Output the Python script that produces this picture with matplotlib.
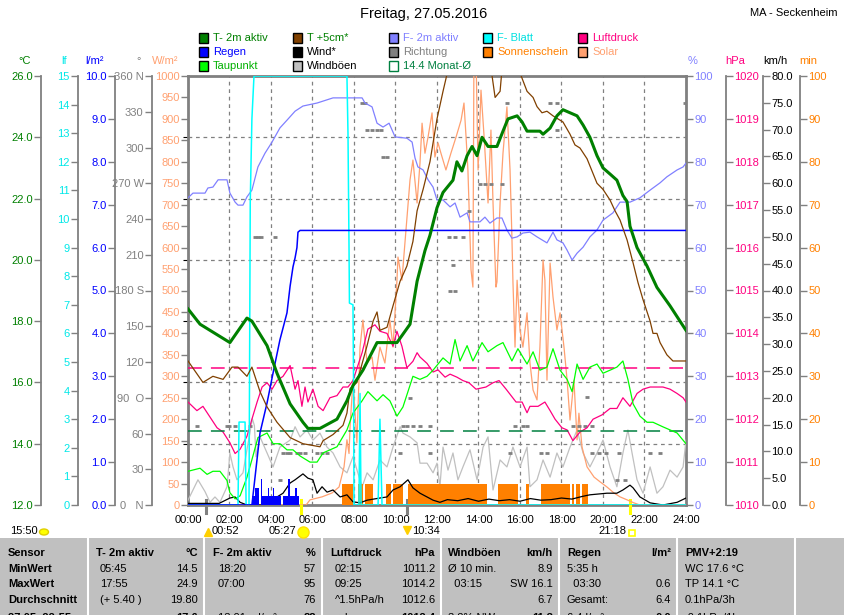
import matplotlib
matplotlib.use("Agg")
import matplotlib.pyplot as plt
from matplotlib.patches import Rectangle, Ellipse
from matplotlib.lines import Line2D

plt.rcParams['font.family'] = ['Liberation Sans', 'DejaVu Sans']

# ---------------- data (time in hours since midnight) ----------------
t2m_h = [0.0, 0.58, 2.02, 2.84, 3.08, 3.81, 4.29, 4.92, 5.54, 5.78, 6.36, 7.18, 7.66, 7.95, 8.43, 9.11,
         9.59, 10.07, 10.70, 11.04, 11.42, 11.66, 12.00, 12.29, 12.77, 12.96, 13.20, 13.45, 13.69, 13.93,
         14.17, 14.46, 14.89, 15.18, 15.42, 15.86, 16.10, 16.34, 16.96, 17.11, 17.45, 17.78, 18.07, 18.41,
         18.75, 19.04, 19.37, 19.71, 20.00, 20.34, 20.67, 20.96, 21.16, 21.30, 21.64, 22.12, 22.60, 23.23,
         23.71, 24.0]
t2m = [18.4, 17.9, 17.3, 18.1, 18.0, 17.2, 16.3, 15.3, 14.7, 14.5, 14.5, 14.8, 15.4, 15.9, 16.4, 17.3,
       17.3, 17.3, 17.9, 19.3, 20.3, 20.8, 21.7, 22.2, 22.6, 23.2, 22.9, 23.4, 23.7, 23.4,
       24.0, 23.7, 23.7, 24.2, 24.6, 24.7, 24.5, 24.2, 24.2, 24.1, 24.3, 24.7, 24.9, 24.8,
       24.7, 24.4, 24.0, 23.4, 23.0, 22.8, 22.6, 22.1, 21.9, 21.1, 20.4, 19.8, 19.1, 18.5,
       18.0, 17.7]

t5_h = [0.0, 0.72, 1.20, 1.69, 2.12, 2.41, 2.84, 3.08, 3.47, 3.81, 4.29, 4.92, 5.54, 6.36, 6.51, 6.99,
        7.47, 7.66, 7.81, 8.14, 8.63, 8.92, 9.11, 9.25, 9.59, 9.88, 10.22, 10.55, 10.84, 11.04, 11.33,
        11.66, 12.00, 12.29, 12.53, 13.59, 14.55, 14.80, 15.04, 15.13, 15.61, 16.0, 16.34, 16.63, 16.82,
        17.06, 17.30, 17.59, 17.83, 18.07, 18.41, 18.65, 18.89, 19.23, 19.71, 20.0, 20.34, 20.58, 20.82,
        21.16, 21.45, 21.69, 21.93, 22.27, 22.41, 22.60, 22.75, 23.08, 23.37, 24.0]
t5 = [16.7, 16.0, 16.2, 16.1, 16.5, 16.5, 16.2, 16.5, 15.7, 15.2, 14.7, 14.2, 14.0, 13.9, 14.1, 14.3,
      14.6, 15.0, 15.8, 16.0, 17.2, 18.0, 18.3, 17.7, 17.8, 18.5, 19.3, 19.8, 20.6, 21.6, 22.3,
      23.2, 24.6, 25.5, 26.2, 27.5, 26.5, 25.3, 25.5, 26.2, 27.0, 26.1, 25.5, 25.3, 25.0,
      24.8, 24.85, 24.7, 24.6, 24.5, 24.1, 23.75, 23.65, 23.3, 22.5, 22.3, 21.95, 21.6, 21.3,
      20.65, 19.9, 19.25, 18.7, 18.0, 17.6, 17.6, 17.3, 16.9, 16.7, 16.7]

td_h = [0.0, 0.58, 0.92, 1.20, 1.54, 1.88, 2.02, 2.27, 2.51, 2.84, 3.13, 3.37, 3.81, 4.10, 4.43, 4.77,
        5.06, 5.40, 5.88, 6.22, 6.51, 7.18, 7.66, 7.95, 8.39, 8.67, 9.11, 9.40, 9.73, 10.07, 10.36,
        10.84, 11.18, 11.52, 11.81, 12.29, 12.63, 12.87, 13.11, 13.45, 13.73, 14.17, 14.46, 14.89,
        15.18, 15.61, 15.90, 16.34, 16.63, 16.96, 17.30, 17.59, 17.93, 18.27, 18.51, 18.75, 19.04,
        19.37, 19.71, 20.0, 20.34, 20.67, 20.96, 21.20, 21.45, 21.78, 22.12, 22.41, 22.89, 23.23,
        23.57, 24.0]
td = [13.1, 13.2, 13.0, 13.1, 13.1, 12.8, 12.4, 12.2, 12.3, 12.9, 13.6, 14.2, 14.35, 14.0, 14.0, 13.8,
      13.8, 13.6, 13.4, 13.4, 13.7, 13.9, 14.45, 15.0, 15.4, 15.7, 15.4, 15.6, 15.4, 14.9, 15.2,
      16.2, 16.1, 16.2, 16.4, 16.8, 16.6, 17.4, 16.7, 17.2, 16.7, 17.3, 17.0, 17.2,
      17.3, 16.7, 17.1, 16.6, 17.0, 16.4, 16.5, 17.1, 16.4, 16.1, 15.7, 16.6, 16.1,
      16.5, 16.6, 16.3, 16.4, 16.5, 16.7, 16.1, 15.3, 14.9, 14.7, 14.7, 14.55, 14.45,
      14.35, 14.0]

hum_h = [0.0, 0.24, 0.82, 0.96, 1.20, 1.45, 1.88, 2.02, 2.27, 2.41, 2.65, 2.84, 3.08, 3.37, 3.71, 4.05,
         4.43, 4.77, 5.16, 5.54, 6.22, 6.99, 8.39, 8.53, 8.87, 9.11, 9.40, 9.69, 9.98, 10.55, 10.80,
         10.94, 11.08, 11.33, 11.57, 11.81, 12.00, 12.29, 12.63, 12.87, 13.11, 13.45, 13.59, 14.07,
         14.31, 14.55, 14.89, 15.13, 15.37, 15.61, 15.86, 16.14, 16.48, 16.82, 17.30, 17.59, 17.78,
         18.07, 18.27, 18.51, 18.75, 19.04, 19.37, 19.71, 20.0, 20.48, 20.82, 21.30, 21.78, 22.27,
         22.75, 23.08, 23.57, 23.86, 24.0]
hum = [71.6, 72.7, 72.7, 73.9, 74.1, 75.8, 75.8, 72.7, 70.6, 69.9, 69.9, 71.8, 73.4, 78.8, 82.0, 84.6,
       87.9, 89.7, 91.8, 93.0, 93.7, 94.9, 94.9, 93.7, 92.8, 89.0, 88.1, 89.0, 85.8, 85.5, 84.6,
       80.9, 78.8, 78.1, 75.8, 74.1, 71.1, 71.1, 69.5, 70.4, 67.1, 68.1, 66.0, 66.0,
       67.1, 65.7, 66.9, 66.9, 64.1, 62.2, 62.5, 63.4, 63.6, 62.5, 61.1, 63.6, 61.8,
       61.1, 59.4, 57.1, 58.7, 60.1, 62.5, 64.1, 66.4, 68.1, 70.6, 70.6, 71.6, 73.4,
       75.1, 76.5, 78.1, 78.8, 79.7]

p_h = [0.0, 0.43, 0.72, 1.06, 1.40, 1.69, 2.02, 2.27, 2.51, 2.84, 3.08, 3.33, 3.57, 3.81, 4.05, 4.29,
       4.58, 4.92, 5.16, 5.30, 5.49, 5.64, 5.78, 6.02, 6.27, 6.51, 6.84, 7.18, 7.47, 7.71, 7.95, 8.39,
       8.67, 9.01, 9.25, 9.59, 9.88, 10.07, 10.31, 10.55, 10.84, 11.04, 11.18, 11.52, 11.81, 12.05,
       12.39, 12.63, 12.96, 13.25, 13.54, 13.88, 14.36, 14.70, 14.99, 15.33, 15.81, 16.10, 16.34,
       16.48, 16.87, 17.20, 17.45, 17.69, 18.02, 18.27, 18.55, 18.89, 19.23, 19.52, 19.95, 20.34,
       20.67, 20.96, 21.30, 21.64, 21.93, 22.27, 22.89, 23.23, 23.57, 23.86, 24.0]
pres = [1012.4, 1012.2, 1012.3, 1012.05, 1011.8, 1011.7, 1011.45, 1011.2, 1011.3, 1011.6, 1012.0, 1012.4,
        1012.75, 1012.85, 1012.7, 1012.9, 1013.0, 1013.25, 1012.7, 1012.9, 1012.3, 1012.75, 1012.4,
        1012.7, 1012.3, 1012.2, 1012.5, 1012.55, 1012.75, 1012.75, 1012.9, 1013.55, 1014.1, 1014.2,
        1014.05, 1014.0, 1013.7, 1014.05, 1013.7, 1013.2, 1013.35, 1013.55, 1013.45, 1013.3, 1013.1,
        1013.15, 1012.98, 1013.05, 1012.98, 1012.9, 1012.85, 1012.7, 1012.75, 1012.85, 1012.9, 1012.7,
        1012.4, 1012.4, 1012.15, 1012.3, 1012.3, 1012.4, 1012.2, 1012.0, 1011.8, 1011.75, 1011.5,
        1011.7, 1011.8, 1012.0, 1012.1, 1012.25, 1012.25, 1012.5, 1012.3, 1012.6, 1012.7, 1012.75,
        1012.75, 1012.7, 1012.6, 1012.5, 1012.4]

leaf_h = [0.0, 2.41, 2.46, 2.75, 2.80, 2.94, 3.00, 3.08, 3.18, 7.66, 7.71, 7.76, 7.78, 7.95, 7.98, 8.0,
          8.24, 8.29, 8.34, 9.16, 9.25, 9.35, 24.0]
leaf = [0, 0, 2.9, 2.9, 0, 0, 10.6, 13.5, 15, 15, 13.0, 9.0, 7.06, 7.0, 4.1, 0,
        0, 3.9, 0, 0, 3.0, 0, 0]

rain_h = [0.0, 3.08, 3.47, 3.81, 4.10, 4.43, 4.77, 4.92, 5.06, 5.16, 5.25, 5.30, 5.40, 24.0]
rain_sum = [0, 0, 1.68, 2.38, 3.08, 3.85, 4.48, 5.1, 5.55, 5.76, 6.0, 6.36, 6.4, 6.4]

rain5_start = 3 + 5 / 60          # first 5-minute rain bar (03:05)
rain5 = [0.2, 0.2, 0.4, 0.4, 0.0, 0.6, 0.2, 0.2, 0.2, 0.4, 0.2, 0.2, 0.4, 0.2,
         0.2, 0.2, 0.2, 0.0, 0.2, 0.2, 0.2, 0.6, 0.2, 0.2, 0.2, 0.4, 0.2, 0.0]

sun_start = [7.42, 8.19, 8.53, 9.54, 9.88, 10.60, 14.94, 16.29, 17.01, 18.51, 18.70, 18.99]
sun_end = [7.95, 8.43, 8.92, 9.78, 10.36, 14.41, 15.90, 16.43, 18.41, 18.60, 18.89, 19.28]
sun_min = 5                       # sunshine minutes per 5-minute slot

wind_h = [0.0, 1.5, 2.02, 2.27, 2.51, 2.84, 4.0, 4.29, 4.58, 4.92, 5.16, 5.54, 5.78, 6.02, 6.22, 6.46,
          6.70, 6.99, 7.33, 7.66, 7.95, 8.29, 8.63, 9.25, 9.59, 9.88, 10.22, 10.60, 10.84, 11.18, 11.52,
          11.81, 12.14, 12.5, 13.0, 13.5, 14.0, 14.5, 15.0, 15.5, 16.0, 16.5, 17.0, 17.5, 18.0, 18.5,
          19.0, 19.37, 20.19, 20.67, 20.96, 21.30, 21.45, 21.78, 22.27, 22.89, 23.57, 24.0]
wind = [0.3, 0.3, 1.3, 1.5, 0.5, 0.0, 0.0, 1.5, 2.2, 4.1, 4.7, 5.8, 5.0, 4.7, 2.2, 3.4,
        2.4, 2.8, 1.5, 1.9, 0.6, 0.4, 0.9, 1.3, 1.5, 2.8, 3.4, 4.7, 3.2, 2.2, 1.5,
        0.9, 0.5, 1.0, 0.8, 1.2, 0.7, 1.1, 0.8, 1.0, 0.7, 1.2, 0.9, 1.0, 1.3, 1.1,
        1.6, 1.9, 2.2, 2.2, 2.8, 3.7, 3.2, 1.5, 0.4, 0.0, 0.5, 1.3]

gust_h = [0.0, 0.24, 0.48, 0.82, 1.06, 1.30, 1.54, 1.88, 2.02, 2.17, 2.36, 2.65, 3.10, 3.20, 3.28, 3.47,
          3.81, 4.10, 4.43, 4.92, 5.16, 5.40, 5.73, 6.02, 6.36, 6.70, 6.99, 7.33, 7.66, 7.95, 8.39,
          8.63, 8.92, 9.25, 9.59, 9.88, 10.22, 10.36, 10.70, 11.04, 11.18, 11.52, 11.81, 12.0, 12.14,
          12.29, 12.53, 12.77, 13.01, 13.25, 13.59, 13.93, 14.22, 14.46, 14.70, 15.04, 15.37, 15.66,
          16.0, 16.34, 16.48, 16.82, 17.11, 17.45, 17.78, 18.07, 18.41, 18.75, 19.04, 19.37, 19.71,
          20.0, 20.34, 20.67, 20.96, 21.20, 21.40, 21.64, 21.93, 22.27, 22.60, 22.89, 23.23, 23.57,
          23.86, 24.0]
gust = [0.9, 2.8, 4.7, 2.5, 0.5, 1.5, 0.5, 3.4, 9.7, 7.1, 4.7, 6.0, 16.1, 14.8, 9.0, 12.7,
        9.7, 7.1, 10.8, 12.1, 14.6, 12.7, 14.0, 12.1, 13.4, 10.8, 9.7, 7.1, 6.0, 9.0, 3.4,
        6.0, 4.7, 8.4, 7.1, 10.8, 14.6, 13.4, 12.7, 11.6, 7.8, 7.8, 6.0, 7.8, 3.4,
        10.8, 6.5, 9.7, 4.7, 7.1, 10.3, 4.7, 10.8, 12.7, 2.8, 8.4, 7.1, 10.8,
        7.1, 10.8, 3.4, 4.7, 8.4, 5.2, 9.7, 7.1, 10.8, 14.0, 9.7, 7.1, 9.7,
        12.1, 7.1, 3.4, 9.7, 14.0, 9.7, 4.7, 2.2, 7.1, 2.2, 3.4, 6.5, 5.2,
        7.1, 12.1]

sol_h = [0.0, 5.69, 5.88, 6.46, 6.94, 7.28, 7.52, 7.66, 7.76, 7.81, 7.95, 8.14, 8.29, 8.43, 8.63, 8.87,
         9.01, 9.25, 9.49, 9.73, 9.88, 10.07, 10.12, 10.31, 10.70, 10.84, 11.04, 11.18, 11.28, 11.42,
         11.57, 11.76, 11.90, 12.05, 12.19, 12.43, 12.67, 12.92, 13.16, 13.30, 13.40, 13.49, 13.64,
         13.73, 13.78, 13.88, 13.98, 14.12, 14.27, 14.46, 14.60, 14.70, 14.84, 14.89, 15.04, 15.18,
         15.37, 15.52, 15.61, 15.66, 15.76, 15.86, 16.0, 16.14, 16.34, 16.48, 16.63, 16.82, 16.96,
         17.11, 17.20, 17.30, 17.45, 17.59, 17.78, 17.93, 18.12, 18.27, 18.41, 18.60, 18.75, 18.84,
         18.99, 19.23, 19.57, 19.86, 20.19, 20.53, 20.82, 21.16, 21.49, 21.78, 24.0]
solar = [0, 0, 12, 19, 28, 42, 89, 152, 120, 182, 291, 145, 368, 431, 331, 345,
         291, 368, 331, 431, 368, 524, 578, 524, 758, 804, 704, 797, 890, 820,
         858, 914, 811, 844, 820, 781, 820, 858, 897, 937, 858, 781, 548,
         508, 1050, 1050, 781, 967, 858, 704, 874, 704, 508, 520, 704, 820,
         928, 781, 625, 520, 368, 524, 408, 368, 448, 331, 268, 245, 368,
         571, 524, 291, 564, 485, 408, 448, 368, 291, 198, 291, 152, 214,
         135, 89, 65, 54, 42, 28, 19, 12, 5, 0, 0]

dir_h = [0.43, 1.88, 2.0, 2.27, 2.99, 3.23, 3.37, 3.52, 4.19, 4.43, 4.58, 4.77, 4.92, 5.25, 5.40, 5.64,
         6.22, 6.46, 6.70, 8.39, 8.53, 8.63, 8.87, 9.11, 9.30, 9.40, 9.59, 10.22, 10.36, 10.55, 10.70,
         10.84, 11.18, 11.66, 11.66, 12.58, 12.63, 12.77, 12.87, 12.87, 13.25, 13.54, 14.07, 14.31,
         14.60, 15.13, 15.37, 15.52, 15.76, 16.14, 16.34, 17.01, 17.30, 17.45, 17.78, 17.78, 18.55,
         18.84, 19.13, 19.23, 19.47, 19.47, 19.81, 20.15, 20.67, 20.77, 21.06, 22.27, 22.75, 23.95]
dir_deg = [66, 66, 66, 66, 66, 225, 225, 225, 225, 21, 44, 44, 44, 44, 44, 44,
           44, 44, 44, 337, 337, 315, 315, 315, 315, 292, 292, 44, 66, 66, 90,
           66, 66, 66, 44, 225, 180, 201, 225, 180, 225, 247, 269, 269,
           269, 269, 337, 44, 66, 66, 66, 44, 44, 337, 337, 315, 66,
           66, 66, 91, 66, 44, 44, 44, 21, 44, 21, 44, 44, 337]

month_t = 14.4       # Monat-Ø temperature
month_p = 1013.2     # pressure reference line

# sun / moon events (hours)
moonrise, sunrise, moonset, sunset = 0.867, 5.45, 10.567, 21.3

# ---------------- layout ----------------
W, H = 845, 615
L, R, T, B = 188, 686, 76, 505
GRAY = '#808080'
FS = 8

fig = plt.figure(figsize=(W / 100, H / 100), dpi=100)


def fx(x):
    return x / W


def fy(y):
    return 1 - y / H


ax = fig.add_axes([fx(L), fy(B), (R - L) / W, (B - T) / H])
ax.set_xlim(0, 24)
ax.set_ylim(12, 26)


def scale(lo, hi, ticks, labels, color, side, xpix):
    a = ax.twinx()
    a.set_ylim(lo, hi)
    for s in a.spines.values():
        s.set_visible(False)
    sp = a.spines[side]
    sp.set_position(('axes', (xpix - L) / (R - L)))
    sp.set_visible(xpix not in (L, R))
    sp.set_color(GRAY)
    sp.set_linewidth(1.3)
    if side == 'left':
        a.yaxis.tick_left()
    else:
        a.yaxis.tick_right()
    a.set_yticks(ticks, labels)
    a.tick_params(axis='y', direction='out', length=5, width=1, color=GRAY,
                  labelcolor=color, labelsize=FS, pad=1)
    return a


def layer(lo, hi, z):
    a = ax.twinx()
    a.set_ylim(lo, hi)
    a.set_zorder(z)
    a.set_axis_off()
    return a


# scales
scale(12, 26, range(12, 27, 2), [f"{v:.1f}" for v in range(12, 27, 2)], '#008000', 'left', 41)
scale(0, 15, range(16), [str(v) for v in range(16)], '#00e8e8', 'left', 78)
scale(0, 10, range(11), [f"{v:.1f}" for v in range(11)], '#0000ff', 'left', 115)
dir_lab = {0: '0   N', 90: '90  O', 180: '180 S', 270: '270 W', 360: '360 N'}
scale(0, 360, range(0, 361, 30), [dir_lab.get(v, str(v)) for v in range(0, 361, 30)], GRAY, 'left', 152)
scale(0, 1000, range(0, 1001, 50), [str(v) for v in range(0, 1001, 50)], '#ffa070', 'left', L)
scale(0, 100, range(0, 101, 10), [str(v) for v in range(0, 101, 10)], '#8080ff', 'right', R)
scale(1010, 1020, range(1010, 1021), [str(v) for v in range(1010, 1021)], '#ff0080', 'right', 726)
scale(0, 80, range(0, 81, 5), [f"{v:.1f}" for v in range(0, 81, 5)], 'black', 'right', 763)
scale(0, 100, range(0, 101, 10), [str(v) for v in range(0, 101, 10)], '#ff8000', 'right', 800)

# base axis: frame, grid, time axis
ax.set_xticks(range(0, 25, 2), [f"{h:02d}:00" for h in range(0, 25, 2)])
ax.set_yticks([14, 16, 18, 20, 22, 24])
ax.tick_params(axis='y', left=False, right=False, labelleft=False, labelright=False)
ax.tick_params(axis='x', length=0, pad=7, labelsize=FS)
ax.grid(True, color=GRAY, ls=(0, (3, 3)), lw=0.9)
for s in ax.spines.values():
    s.set_color(GRAY)
    s.set_linewidth(2)

# data layers
a = layer(0, 80, 1)
a.plot(gust_h, gust, color='#c0c0c0', lw=0.9)

a = layer(0, 100, 2)
a.bar(sun_start, [sun_min] * len(sun_start),
      width=[e - s for s, e in zip(sun_start, sun_end)], align='edge', color='#ff8000', lw=0)

a = layer(0, 1000, 3)
a.plot(sol_h, solar, color='#ffa070', lw=0.9)

a = layer(0, 80, 4)
a.plot(wind_h, wind, color='black', lw=0.9)

a = layer(0, 10, 5)
a.bar([rain5_start + i / 12 for i in range(len(rain5))], rain5, width=1 / 12,
      align='edge', color='#0000ff', lw=0)

a = layer(0, 360, 6)
a.plot(dir_h, dir_deg, ls='none', marker='_', ms=3, mew=2, color=GRAY)

a = layer(1010, 1020, 7)
a.axhline(month_p, color='#ff0080', lw=1.1, dashes=(9, 6))
a.plot(p_h, pres, color='#ff0080', lw=0.9)

a = layer(12, 26, 8)
a.axhline(month_t, color='#008040', lw=1.1, dashes=(9, 6))
a.plot(td_h, td, color='#00ff00', lw=0.9)

a = layer(0, 100, 9)
a.plot(hum_h, hum, color='#8080ff', lw=0.9)

a = layer(0, 15, 10)
a.plot(leaf_h, leaf, color='#00ffff', lw=1.1)

a = layer(0, 10, 11)
a.plot(rain_h, rain_sum, color='#0000ff', lw=1.1)

a = layer(12, 26, 12)
a.plot(t5_h, t5, color='#804000', lw=0.9)
a.plot(t2m_h, t2m, color='#008000', lw=2.2)

# sun / moon markers on the time axis
tr = ax.get_xaxis_transform()
for h, c in [(moonrise, GRAY), (moonset, GRAY), (sunrise, '#ffff00'), (sunset, '#ffff00')]:
    ax.plot([h, h], [-0.018, 0.012], color=c, lw=2.2, transform=tr, clip_on=False, zorder=20)

# ---------------- texts ----------------
fig.text(fx(424), fy(14), 'Freitag, 27.05.2016', ha='center', va='center', fontsize=10.5)
fig.text(fx(838), fy(13), 'MA - Seckenheim', ha='right', va='center', fontsize=FS)

units = [(25, '°C', '#008000'), (64, 'lf', '#00e8e8'), (95, 'l/m²', '#0000ff'), (139, '°', GRAY),
         (165, 'W/m²', '#ffa070'), (693, '%', '#8080ff'), (735, 'hPa', '#ff0080'),
         (775, 'km/h', 'black'), (808, 'min', '#ff8000')]
for x, s, c in units:
    fig.text(fx(x), fy(61), s, color=c, ha='center', va='center', fontsize=FS)

legend = [(199, 38, '#008000', 'T- 2m aktiv', '#008000'),
          (199, 52, '#0000ff', 'Regen', '#0000ff'),
          (199, 66, '#00ff00', 'Taupunkt', '#00b000'),
          (293, 38, '#804000', 'T +5cm*', '#008000'),
          (293, 52, 'black', 'Wind*', 'black'),
          (293, 66, '#c0c0c0', 'Windböen', 'black'),
          (389, 38, '#8080ff', 'F- 2m aktiv', '#8080ff'),
          (389, 52, GRAY, 'Richtung', GRAY),
          (389, 66, 'none', '14.4 Monat-Ø', '#008040'),
          (483, 38, '#00ffff', 'F- Blatt', '#00e0e0'),
          (483, 52, '#ff8000', 'Sonnenschein', '#ff8000'),
          (578, 38, '#ff0080', 'Luftdruck', '#ff0080'),
          (578, 52, '#ffa070', 'Solar', '#ffa070')]
for x, y, fc, s, tc in legend:
    ec = '#008040' if fc == 'none' else 'black'
    fig.add_artist(Rectangle((fx(x), fy(y + 5)), 9 / W, 10 / H, transform=fig.transFigure,
                             fc=fc, ec=ec, lw=1))
    fig.text(fx(x + 14), fy(y), s, color=tc, ha='left', va='center', fontsize=FS)

# events below the time axis
fig.text(fx(10), fy(531), '15:50', ha='left', va='center', fontsize=FS)
fig.add_artist(Ellipse((fx(44), fy(532)), 9 / W, 6 / H, transform=fig.transFigure, fc='#ffff00', ec='#e0d000'))
fig.add_artist(Line2D([fx(208)], [fy(532)], marker='^', ms=6, color='#ffd000', transform=fig.transFigure))
fig.text(fx(212), fy(531), '00:52', ha='left', va='center', fontsize=FS)
fig.text(fx(296), fy(531), '05:27', ha='right', va='center', fontsize=FS)
fig.add_artist(Line2D([fx(303)], [fy(532)], marker='o', ms=8, color='#ffff00', mec='#ffe000',
                      transform=fig.transFigure))
fig.add_artist(Line2D([fx(407)], [fy(530)], marker='v', ms=6, color='#ffd000', transform=fig.transFigure))
fig.text(fx(412), fy(531), '10:34', ha='left', va='center', fontsize=FS)
fig.text(fx(626), fy(531), '21:18', ha='right', va='center', fontsize=FS)
fig.add_artist(Rectangle((fx(629), fy(536)), 6 / W, 6 / H, transform=fig.transFigure,
                         fc='none', ec='#ffff00', lw=1.2))

# ---------------- summary table ----------------
fig.add_artist(Rectangle((0, 0), 1, fy(538), transform=fig.transFigure, fc='#c0c0c0', ec='none'))
for x in [88, 204, 322, 441, 559, 677, 795]:
    fig.add_artist(Line2D([fx(x), fx(x)], [0, fy(538)], color='white', lw=1.5, transform=fig.transFigure))

row_y = [553, 569, 584, 600, 618]
fig.text(fx(8), fy(row_y[0]), 'Sensor', fontsize=FS, fontweight='bold', va='center')
for y, s in zip(row_y[1:], ['MinWert', 'MaxWert', 'Durchschnitt', '27.05. 22:55']):
    fig.text(fx(8), fy(y), s, fontsize=FS, fontweight='bold', va='center')

table = [
    (96, 100, 198, 'T- 2m aktiv', '°C',
     [('05:45', '14.5'), ('17:55', '24.9'), ('(+ 5.40 )', '19.80'), ('', '17.6')]),
    (213, 218, 316, 'F- 2m aktiv', '%',
     [('18:20', '57'), ('07:00', '95'), ('', '76'), ('13:01 ml/m²', '88')]),
    (330, 335, 435, 'Luftdruck', 'hPa',
     [('02:15', '1011.2'), ('09:25', '1014.2'), ('^1.5hPa/h', '1012.6'), ('rel.', '1012.4')]),
    (448, 448, 553, 'Windböen', 'km/h',
     [('Ø 10 min.', '8.9'), ('  03:15', 'SW 16.1'), ('', '6.7'), ('3.2% NW', '11.3')]),
    (567, 567, 671, 'Regen', 'l/m²',
     [('5:35 h', ''), ('  03:30', '0.6'), ('Gesamt:', '6.4'), ('6.4 l/m²', '0.0')]),
    (685, 685, None, 'PMV+2:19', '',
     [('WC 17.6 °C', ''), ('TP 14.1 °C', ''), ('0.1hPa/3h', ''), ('-0.1hPa/1h', '')]),
]
for hx, vx, rx, head, unit, rows in table:
    fig.text(fx(hx), fy(row_y[0]), head, fontsize=FS, fontweight='bold', va='center')
    if rx:
        fig.text(fx(rx), fy(row_y[0]), unit, fontsize=FS, fontweight='bold', va='center', ha='right')
    for i, (ls, rs) in enumerate(rows):
        y = row_y[i + 1]
        fw = 'bold' if i == 3 else 'normal'
        fig.text(fx(vx), fy(y), ls, fontsize=FS, va='center')
        if rx and rs:
            fig.text(fx(rx), fy(y), rs, fontsize=FS, va='center', ha='right', fontweight=fw)

fig.savefig('out.png', dpi=100)
